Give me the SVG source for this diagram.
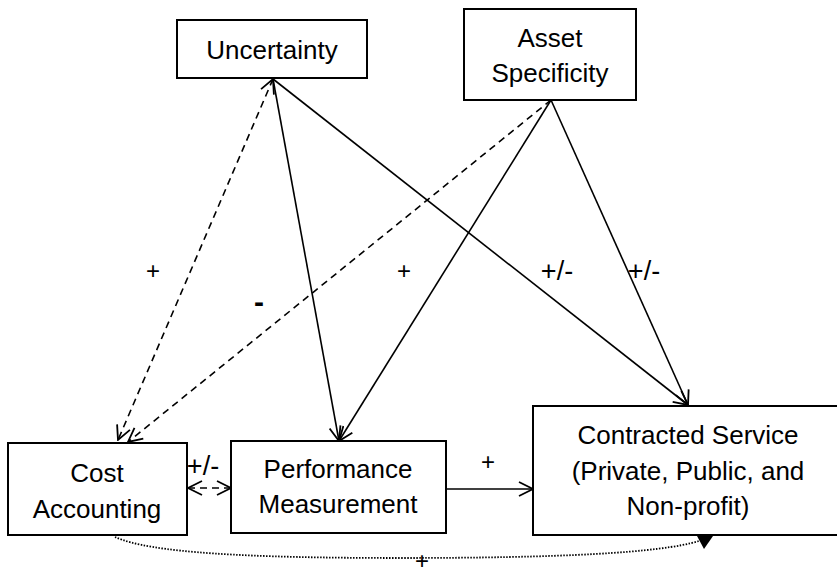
<svg xmlns="http://www.w3.org/2000/svg" width="837" height="576" viewBox="0 0 837 576">
<style>
.box{fill:#fff;stroke:#000;stroke-width:2}
.t{font-family:"Liberation Sans",Arial,sans-serif;font-size:26px;fill:#000;text-anchor:middle}
.lbl{font-family:"Liberation Sans",Arial,sans-serif;font-size:24px;fill:#000;text-anchor:middle}
.pm{font-size:27px}
.ln{fill:none;stroke:#000;stroke-width:1.6}
.dash{stroke-dasharray:7 5}
.dot{stroke-dasharray:1.5 1.5;stroke-width:1.8}
</style>
<defs>
<marker id="arr" viewBox="0 0 16 16" refX="15" refY="8" markerWidth="16" markerHeight="16" markerUnits="userSpaceOnUse" orient="auto-start-reverse">
<path d="M1,1 L15,8 L1,15" fill="none" stroke="#000" stroke-width="1.8"/>
</marker>
</defs>
<g id="connectors">
<line class="ln dash" x1="273" y1="79" x2="118" y2="440" marker-start="url(#arr)" marker-end="url(#arr)"/>
<line class="ln" x1="273" y1="79" x2="339" y2="441" marker-end="url(#arr)"/>
<line class="ln" x1="273" y1="79" x2="688" y2="405" marker-end="url(#arr)"/>
<line class="ln dash" x1="551" y1="100" x2="128" y2="442" marker-end="url(#arr)"/>
<line class="ln" x1="551" y1="100" x2="339" y2="441" marker-end="url(#arr)"/>
<line class="ln" x1="551" y1="100" x2="688" y2="405" marker-end="url(#arr)"/>
<line class="ln dash" x1="188" y1="488" x2="231" y2="488" stroke-dasharray="6 4" marker-start="url(#arr)" marker-end="url(#arr)"/>
<line class="ln" x1="446" y1="489" x2="533" y2="489" marker-end="url(#arr)"/>
<path class="ln dot" d="M115,537 C150,553 250,558 400,558 C560,558 660,553 699,541"/>
<polygon points="697,536 713,536 704,549" fill="#000"/>
</g>
<g id="uncertainty">
<rect class="box" x="177" y="20" width="190" height="58"/>
<text class="t" x="272" y="59">Uncertainty</text>
</g>
<g id="asset-specificity">
<rect class="box" x="464" y="9" width="172" height="91"/>
<text class="t" x="550" y="47">Asset</text>
<text class="t" x="550" y="82">Specificity</text>
</g>
<g id="cost-accounting">
<rect class="box" x="8" y="443" width="179" height="92"/>
<text class="t" x="97" y="482">Cost</text>
<text class="t" x="97" y="518">Accounting</text>
</g>
<g id="performance-measurement">
<rect class="box" x="231" y="441" width="215" height="92"/>
<text class="t" x="338" y="478">Performance</text>
<text class="t" x="338" y="513">Measurement</text>
</g>
<g id="contracted-service">
<rect class="box" x="533" y="406" width="312" height="129"/>
<text class="t" x="688" y="444">Contracted Service</text>
<text class="t" x="688" y="480">(Private, Public, and</text>
<text class="t" x="688" y="515">Non-profit)</text>
</g>
<g id="labels">
<text class="lbl" x="153" y="279">+</text>
<text class="lbl" x="259" y="312" style="font-size:30px;font-weight:bold">-</text>
<text class="lbl" x="404" y="279">+</text>
<text class="lbl pm" x="557" y="280">+/-</text>
<text class="lbl pm" x="644" y="280">+/-</text>
<text class="lbl pm" x="203" y="475">+/-</text>
<text class="lbl" x="488" y="470">+</text>
<text class="lbl" x="422" y="569">+</text>
</g>
</svg>
